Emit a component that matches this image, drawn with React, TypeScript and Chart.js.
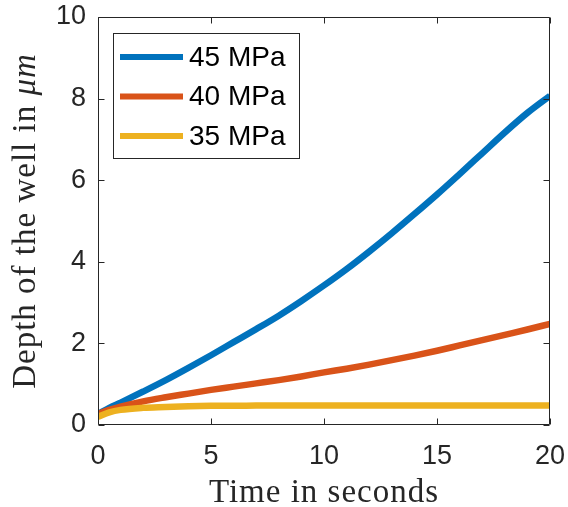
import React, { useEffect, useRef } from "react";
import { Chart, registerables } from "chart.js";

Chart.register(...registerables);

// Simulation output: well depth (µm) against time (s) for three pressures
const time = [0, 0.5, 1, 2, 3, 4, 5, 6, 7, 8, 9, 10, 11, 12, 13, 14, 15, 16, 17, 18, 19, 20];
const depth45 = [0.27, 0.42, 0.55, 0.82, 1.1, 1.4, 1.71, 2.03, 2.35, 2.68, 3.04, 3.42, 3.82, 4.25, 4.7, 5.17, 5.65, 6.15, 6.66, 7.17, 7.65, 8.07];
const depth40 = [0.27, 0.37, 0.45, 0.58, 0.68, 0.77, 0.86, 0.94, 1.02, 1.1, 1.19, 1.29, 1.38, 1.48, 1.59, 1.7, 1.82, 1.95, 2.08, 2.21, 2.34, 2.48];
const depth35 = [0.2, 0.31, 0.37, 0.42, 0.44, 0.46, 0.47, 0.472, 0.475, 0.477, 0.478, 0.48, 0.48, 0.48, 0.48, 0.48, 0.48, 0.48, 0.48, 0.48, 0.48, 0.48];

const seriesLabels = ["45 MPa", "40 MPa", "35 MPa"];
const seriesColors = ["#0072BD", "#D95319", "#EDB120"];

const xTicks = [0, 5, 10, 15, 20];
const yTicks = [0, 2, 4, 6, 8, 10];

const xTitle = "Time in seconds";
const yTitleText = "Depth of the well in ";
const yTitleUnit = "\u03BCm";

const INK = "#262626";
const SANS = "'Liberation Sans', Arial, Helvetica, sans-serif";
const SERIF = "'Liberation Serif', 'Times New Roman', serif";

const toPoints = (ys: number[]) => time.map((t, i) => ({ x: t, y: ys[i] }));

// Box, inward ticks on all four sides, axis titles and the inset legend
const framePlugin = {
  id: "frame",
  afterDraw(chart: any) {
    const { ctx, chartArea } = chart;
    const { left, right, top, bottom } = chartArea;
    const xs = chart.scales.x;
    const ys = chart.scales.y;
    const L = Math.round(left) + 0.5;
    const R = Math.round(right) - 0.5;
    const T = Math.round(top) + 0.5;
    const B = Math.round(bottom) - 0.5;
    const tick = 6;

    ctx.save();
    ctx.strokeStyle = INK;
    ctx.lineWidth = 1;
    ctx.beginPath();
    ctx.rect(L, T, R - L, B - T);
    for (const v of xTicks) {
      const px = Math.round(xs.getPixelForValue(v)) + 0.5;
      ctx.moveTo(px, B);
      ctx.lineTo(px, B - tick);
      ctx.moveTo(px, T);
      ctx.lineTo(px, T + tick);
    }
    for (const v of yTicks) {
      const py = Math.round(ys.getPixelForValue(v)) + 0.5;
      ctx.moveTo(L, py);
      ctx.lineTo(L + tick, py);
      ctx.moveTo(R, py);
      ctx.lineTo(R - tick, py);
    }
    ctx.stroke();

    // x-axis title
    ctx.fillStyle = INK;
    ctx.font = `33px ${SERIF}`;
    (ctx as any).letterSpacing = "1px";
    ctx.textAlign = "center";
    ctx.textBaseline = "alphabetic";
    ctx.fillText(xTitle, (left + right) / 2, 502);

    // y-axis title, with the unit set in italics
    ctx.save();
    ctx.translate(35, (top + bottom) / 2);
    ctx.rotate(-Math.PI / 2);
    ctx.textAlign = "left";
    ctx.font = `33px ${SERIF}`;
    const w1 = ctx.measureText(yTitleText).width;
    ctx.font = `italic 33px ${SERIF}`;
    const w2 = ctx.measureText(yTitleUnit).width;
    const start = -(w1 + w2) / 2;
    ctx.font = `33px ${SERIF}`;
    ctx.fillText(yTitleText, start, 0);
    ctx.font = `italic 33px ${SERIF}`;
    ctx.fillText(yTitleUnit, start + w1, 0);
    ctx.restore();
    (ctx as any).letterSpacing = "0px";

    // legend
    const bx = 113.5, by = 33.5, bw = 186, bh = 125;
    ctx.fillStyle = "#ffffff";
    ctx.fillRect(bx, by, bw, bh);
    ctx.strokeStyle = INK;
    ctx.lineWidth = 1;
    ctx.strokeRect(bx, by, bw, bh);
    ctx.font = `28px ${SANS}`;
    ctx.textAlign = "left";
    ctx.textBaseline = "middle";
    chart.data.datasets.forEach((ds: any, i: number) => {
      const cy = 57 + i * 39.5;
      ctx.strokeStyle = ds.borderColor;
      ctx.lineWidth = 6;
      ctx.beginPath();
      ctx.moveTo(120, cy);
      ctx.lineTo(183, cy);
      ctx.stroke();
      ctx.fillStyle = "#000000";
      ctx.fillText(ds.label, 189, cy + 1);
    });
    ctx.restore();
  },
};

const noEdgePadding = (scale: any) => {
  scale.paddingLeft = 0;
  scale.paddingRight = 0;
  scale.paddingTop = 0;
  scale.paddingBottom = 0;
};

export default function App() {
  const canvasRef = useRef<HTMLCanvasElement | null>(null);

  useEffect(() => {
    const canvas = canvasRef.current;
    if (!canvas) return;
    const series = [depth45, depth40, depth35];
    const chart = new Chart(canvas, {
      type: "line",
      data: {
        datasets: series.map((ys, i) => ({
          label: seriesLabels[i],
          data: toPoints(ys),
          borderColor: seriesColors[i],
          backgroundColor: seriesColors[i],
          borderWidth: 6.5,
          pointRadius: 0,
          fill: false,
          cubicInterpolationMode: "monotone" as const,
          order: 3 - i,
        })),
      },
      options: {
        responsive: false,
        animation: false,
        events: [],
        layout: { padding: { left: 0, right: 18, top: 17, bottom: 0 } },
        plugins: {
          legend: { display: false },
          tooltip: { enabled: false },
          title: { display: false },
        },
        scales: {
          x: {
            type: "linear",
            min: 0,
            max: 20,
            afterBuildTicks: (scale: any) => {
              scale.ticks = xTicks.map((v) => ({ value: v }));
            },
            afterFit: (scale: any) => {
              scale.height = 82;
              noEdgePadding(scale);
            },
            grid: { display: false, drawTicks: false },
            border: { display: false },
            ticks: {
              padding: 15,
              color: INK,
              maxRotation: 0,
              autoSkip: false,
              font: { family: SANS, size: 27 },
            },
          },
          y: {
            type: "linear",
            min: 0,
            max: 10,
            afterBuildTicks: (scale: any) => {
              scale.ticks = yTicks.map((v) => ({ value: v }));
            },
            afterFit: (scale: any) => {
              scale.width = 98;
              noEdgePadding(scale);
            },
            grid: { display: false, drawTicks: false },
            border: { display: false },
            ticks: {
              padding: 12,
              color: INK,
              autoSkip: false,
              font: { family: SANS, size: 27 },
            },
          },
        },
      },
      plugins: [framePlugin],
    });
    return () => chart.destroy();
  }, []);

  return (
    <div style={{ position: "fixed", left: 0, top: 0, width: 568, height: 507, background: "#ffffff" }}>
      <canvas ref={canvasRef} width={568} height={507} style={{ display: "block" }} />
    </div>
  );
}
